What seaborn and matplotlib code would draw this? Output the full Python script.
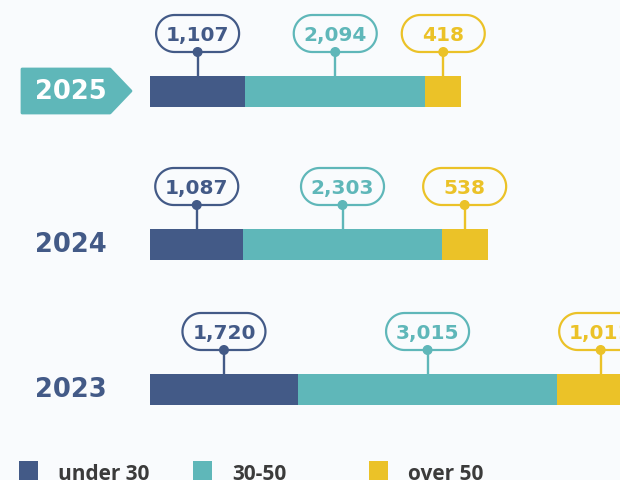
import numpy as np
import pandas as pd
import matplotlib
matplotlib.use("Agg")
import matplotlib.pyplot as plt
import seaborn as sns
from matplotlib.patches import Polygon, Rectangle, Circle

# Employees by age group per year
years = ["2025", "2024", "2023"]
under_30 = [1107, 1087, 1720]
age_30_50 = [2094, 2303, 3015]
over_50 = [418, 538, 1011]
groups = ["under 30", "30-50", "over 50"]

# Styling / layout
colors = ["#435a87", "#5fb7b9", "#ebc228"]
bg = "#f9fbfd"
row_y = [91.5, 244.5, 389.5]   # vertical centre of each row (pixels from top)
bar_h = 31
px_per_unit = 0.0860
bar_x0 = 150

sns.set_theme(style="white")
plt.rcParams["font.family"] = ["DejaVu Sans"]

fig = plt.figure(figsize=(6.2, 4.8), dpi=100, facecolor=bg)
ax = fig.add_axes([0, 0, 1, 1])
ax.set_facecolor(bg)

df = pd.DataFrame({"year": years, "row": row_y,
                   "under 30": under_30, "30-50": age_30_50, "over 50": over_50})
df["c1"] = df["under 30"]
df["c2"] = df["c1"] + df["30-50"]
df["c3"] = df["c2"] + df["over 50"]

# stacked bars: draw cumulative totals back to front
spacing = np.min(np.diff(sorted(row_y)))
w = bar_h / spacing
for col, color in zip(["c3", "c2", "c1"], colors[::-1]):
    sns.barplot(data=df, x=col, y="row", orient="y", native_scale=True,
                width=w, color=color, saturation=1, linewidth=0,
                errorbar=None, ax=ax)
ax.set_xlim(-bar_x0 / px_per_unit, (620 - bar_x0) / px_per_unit)
ax.set_ylim(480, 0)
ax.axis("off")

# pixel-space overlay for callouts, labels and legend
ov = fig.add_axes([0, 0, 1, 1], zorder=3)
ov.set_xlim(0, 620)
ov.set_ylim(480, 0)
ov.axis("off")
ov.patch.set_alpha(0)


def to_px(x, y):
    disp = ax.transData.transform((x, y))
    return ov.transData.inverted().transform(disp)


def stadium(cx, cy, width, height):
    r = height / 2
    t = np.linspace(-np.pi / 2, np.pi / 2, 40)
    right = np.column_stack([cx + width / 2 - r + r * np.cos(t), cy + r * np.sin(t)])
    left = np.column_stack([cx - width / 2 + r - r * np.cos(t), cy - r * np.sin(t)])
    return np.vstack([right, left])


pill_w, pill_h = 83, 37
stem = 24
series = [under_30, age_30_50, over_50]
for i, yr in enumerate(years):
    start = 0
    for vals, color in zip(series, colors):
        v = vals[i]
        cx, top = to_px(start + v / 2, row_y[i] - bar_h / 2)
        start += v
        dot_y = top - stem
        cy = dot_y - pill_h / 2
        ov.plot([cx, cx], [top, dot_y], color=color, lw=1.7, solid_capstyle="butt")
        ov.add_patch(Polygon(stadium(cx, cy, pill_w, pill_h), closed=True,
                             fc=bg, ec=color, lw=1.6))
        ov.add_patch(Circle((cx, dot_y), 4.3, color=color, zorder=4))
        ov.text(cx, cy + 7.5, f"{v:,}", ha="center", va="baseline",
                color=color, fontsize=14.5, fontweight="bold")

# year labels
tag = Polygon([(22, 69), (110, 69), (131, 91), (110, 113), (22, 113)], closed=True,
              fc=colors[1], ec=colors[1], lw=2, joinstyle="round")
ov.add_patch(tag)
ov.text(70.5, 99, years[0], ha="center", va="baseline", color="white",
        fontsize=18.5, fontweight="bold")
ov.text(71, 252, years[1], ha="center", va="baseline", color=colors[0],
        fontsize=18.5, fontweight="bold")
ov.text(71, 397, years[2], ha="center", va="baseline", color=colors[0],
        fontsize=18.5, fontweight="bold")

# legend
for sq_x, tx_x, label, color in zip([19, 193, 369], [58, 232, 408], groups, colors):
    ov.add_patch(Rectangle((sq_x, 461), 19, 22, fc=color, ec="none"))
    ov.text(tx_x, 480, label, ha="left", va="baseline", color="#3b3b3b",
            fontsize=15, fontweight="bold", family=["Open Sans", "DejaVu Sans"])

fig.savefig("out.png", dpi=100, facecolor=bg)
